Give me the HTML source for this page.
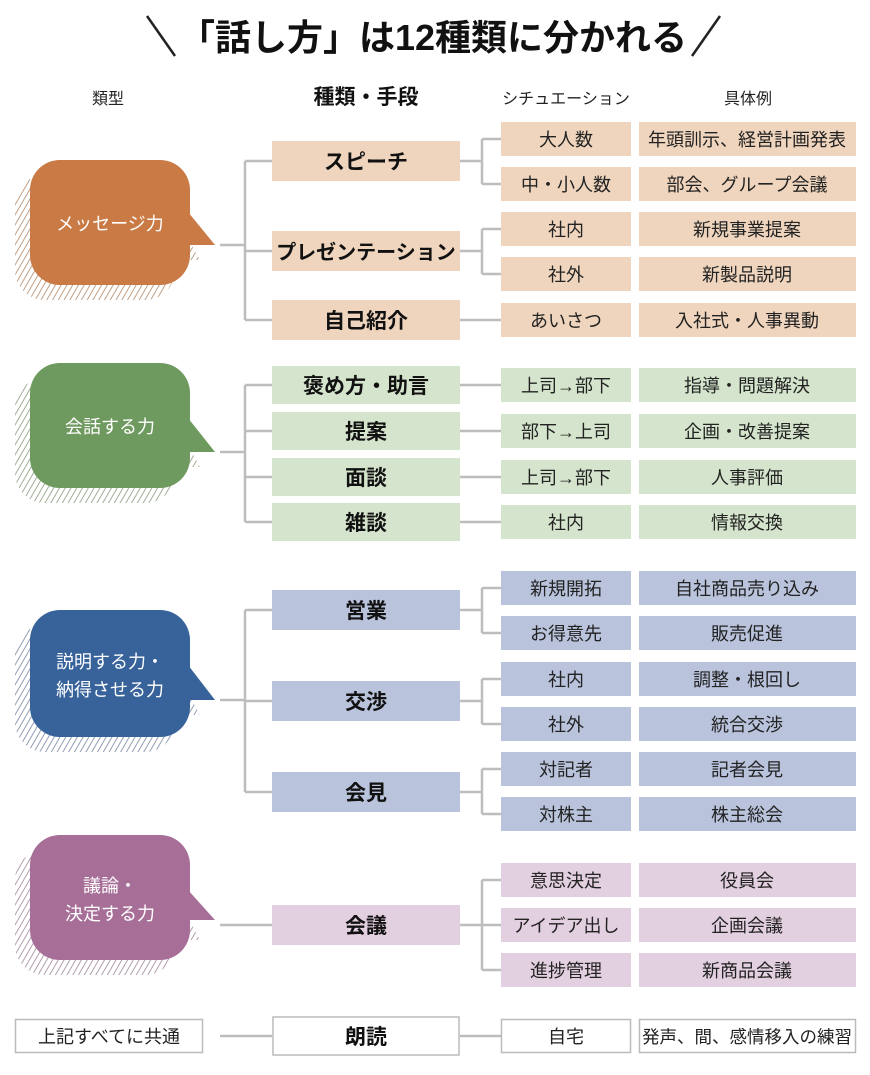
<!DOCTYPE html>
<html><head><meta charset="utf-8"><style>
html,body{margin:0;padding:0;background:#fff;}
svg{display:block;}
text{font-family:"Liberation Sans","Noto Sans CJK JP",sans-serif;}
</style></head><body>
<svg width="870" height="1075" viewBox="0 0 870 1075" xmlns="http://www.w3.org/2000/svg">
<defs>
<pattern id="ho" width="5" height="5" patternUnits="userSpaceOnUse" patternTransform="rotate(30)"><line x1="0" y1="0" x2="0" y2="5" stroke="#b8957a" stroke-width="1.8"/></pattern>
<pattern id="hg" width="5" height="5" patternUnits="userSpaceOnUse" patternTransform="rotate(30)"><line x1="0" y1="0" x2="0" y2="5" stroke="#94a58a" stroke-width="1.8"/></pattern>
<pattern id="hb" width="5" height="5" patternUnits="userSpaceOnUse" patternTransform="rotate(30)"><line x1="0" y1="0" x2="0" y2="5" stroke="#8592ad" stroke-width="1.8"/></pattern>
<pattern id="hp" width="5" height="5" patternUnits="userSpaceOnUse" patternTransform="rotate(30)"><line x1="0" y1="0" x2="0" y2="5" stroke="#aa92a3" stroke-width="1.8"/></pattern>
</defs>

<line x1="147" y1="16" x2="175" y2="56" stroke="#222" stroke-width="2.5"/>
<line x1="692" y1="56" x2="720" y2="16" stroke="#222" stroke-width="2.5"/>
<text x="433" y="50" font-size="36" font-weight="bold" text-anchor="middle" fill="#111">「話し方」は12種類に分かれる</text>

<text x="108" y="104" font-size="16" text-anchor="middle" fill="#222">類型</text>
<text x="366" y="104" font-size="21" font-weight="bold" text-anchor="middle" fill="#111">種類・手段</text>
<text x="566" y="104" font-size="16" text-anchor="middle" fill="#222">シチュエーション</text>
<text x="748" y="104" font-size="16" text-anchor="middle" fill="#222">具体例</text>

<g stroke="#bdbdbd" stroke-width="2.5" fill="none">
<path d="M220 245H245M245 161V320M245 161H272M245 251H272M245 320H272"/>
<path d="M460 161H482M482 139V184M482 139H501M482 184H501"/>
<path d="M460 251H482M482 229V274M482 229H501M482 274H501"/>
<path d="M460 320H501"/>
<path d="M220 452H245M245 385V522M245 385H272M245 431H272M245 477H272M245 522H272"/>
<path d="M460 385H501M460 431H501M460 477H501M460 522H501"/>
<path d="M220 700H245M245 610V792M245 610H272M245 701H272M245 792H272"/>
<path d="M460 610H482M482 588V633M482 588H501M482 633H501"/>
<path d="M460 701H482M482 679V724M482 679H501M482 724H501"/>
<path d="M460 792H482M482 769V814M482 769H501M482 814H501"/>
<path d="M220 925H272"/>
<path d="M460 925H482M482 880V970M482 880H501M482 925H501M482 970H501"/>
<path d="M220 1036H272M460 1036H501"/>
</g>

<g>
<rect x="15" y="175" width="160" height="125" rx="30" fill="url(#ho)"/><polygon points="173,212 200,260 173,260" fill="url(#ho)"/>
<rect x="30" y="160" width="160" height="125" rx="30" fill="#c97a45"/><polygon points="188,212 215,245 188,245" fill="#c97a45"/>
<text x="110" y="230" font-size="18" fill="#fff" text-anchor="middle">メッセージ力</text>

<rect x="15" y="378" width="160" height="125" rx="30" fill="url(#hg)"/><polygon points="173,418 200,467 173,467" fill="url(#hg)"/>
<rect x="30" y="363" width="160" height="125" rx="30" fill="#6f9a5f"/><polygon points="188,418 215,452 188,452" fill="#6f9a5f"/>
<text x="110" y="433" font-size="18" fill="#fff" text-anchor="middle">会話する力</text>

<rect x="15" y="625" width="160" height="127" rx="30" fill="url(#hb)"/><polygon points="173,665 200,715 173,715" fill="url(#hb)"/>
<rect x="30" y="610" width="160" height="127" rx="30" fill="#37629a"/><polygon points="188,665 215,700 188,700" fill="#37629a"/>
<text x="110" y="668" font-size="18" fill="#fff" text-anchor="middle">説明する力・</text>
<text x="110" y="696" font-size="18" fill="#fff" text-anchor="middle">納得させる力</text>

<rect x="15" y="850" width="160" height="125" rx="30" fill="url(#hp)"/><polygon points="173,890 200,940 173,940" fill="url(#hp)"/>
<rect x="30" y="835" width="160" height="125" rx="30" fill="#a76f98"/><polygon points="188,890 215,920 188,920" fill="#a76f98"/>
<text x="110" y="892" font-size="18" fill="#fff" text-anchor="middle">議論・</text>
<text x="110" y="920" font-size="18" fill="#fff" text-anchor="middle">決定する力</text>
</g>

<g font-size="21" font-weight="bold" text-anchor="middle" fill="#111">
<rect x="272" y="141" width="188" height="40" fill="#efd5bd"/><text x="366" y="169">スピーチ</text>
<rect x="272" y="231" width="188" height="40" fill="#efd5bd"/><text x="366" y="259" font-size="20">プレゼンテーション</text>
<rect x="272" y="300" width="188" height="40" fill="#efd5bd"/><text x="366" y="328">自己紹介</text>
<rect x="272" y="366" width="188" height="38" fill="#d5e4cc"/><text x="366" y="393">褒め方・助言</text>
<rect x="272" y="412" width="188" height="38" fill="#d5e4cc"/><text x="366" y="439">提案</text>
<rect x="272" y="458" width="188" height="38" fill="#d5e4cc"/><text x="366" y="485">面談</text>
<rect x="272" y="503" width="188" height="38" fill="#d5e4cc"/><text x="366" y="530">雑談</text>
<rect x="272" y="590" width="188" height="40" fill="#b9c3dc"/><text x="366" y="618">営業</text>
<rect x="272" y="681" width="188" height="40" fill="#b9c3dc"/><text x="366" y="709">交渉</text>
<rect x="272" y="772" width="188" height="40" fill="#b9c3dc"/><text x="366" y="800">会見</text>
<rect x="272" y="905" width="188" height="40" fill="#e2cfdf"/><text x="366" y="933">会議</text>
<rect x="273" y="1017" width="186" height="38" fill="#fff" stroke="#bbb" stroke-width="1.5"/><text x="366" y="1044">朗読</text>
</g>

<g font-size="18" text-anchor="middle" fill="#222">
<rect x="501" y="122" width="130" height="34" fill="#efd5bd"/><rect x="639" y="122" width="217" height="34" fill="#efd5bd"/>
<text x="566" y="146">大人数</text><text x="747" y="146">年頭訓示、経営計画発表</text>
<rect x="501" y="167" width="130" height="34" fill="#efd5bd"/><rect x="639" y="167" width="217" height="34" fill="#efd5bd"/>
<text x="566" y="191">中・小人数</text><text x="747" y="191">部会、グループ会議</text>
<rect x="501" y="212" width="130" height="34" fill="#efd5bd"/><rect x="639" y="212" width="217" height="34" fill="#efd5bd"/>
<text x="566" y="236">社内</text><text x="747" y="236">新規事業提案</text>
<rect x="501" y="257" width="130" height="34" fill="#efd5bd"/><rect x="639" y="257" width="217" height="34" fill="#efd5bd"/>
<text x="566" y="281">社外</text><text x="747" y="281">新製品説明</text>
<rect x="501" y="303" width="130" height="34" fill="#efd5bd"/><rect x="639" y="303" width="217" height="34" fill="#efd5bd"/>
<text x="566" y="327">あいさつ</text><text x="747" y="327">入社式・人事異動</text>

<rect x="501" y="368" width="130" height="34" fill="#d5e4cc"/><rect x="639" y="368" width="217" height="34" fill="#d5e4cc"/>
<text x="566" y="392">上司→部下</text><text x="747" y="392">指導・問題解決</text>
<rect x="501" y="414" width="130" height="34" fill="#d5e4cc"/><rect x="639" y="414" width="217" height="34" fill="#d5e4cc"/>
<text x="566" y="438">部下→上司</text><text x="747" y="438">企画・改善提案</text>
<rect x="501" y="460" width="130" height="34" fill="#d5e4cc"/><rect x="639" y="460" width="217" height="34" fill="#d5e4cc"/>
<text x="566" y="484">上司→部下</text><text x="747" y="484">人事評価</text>
<rect x="501" y="505" width="130" height="34" fill="#d5e4cc"/><rect x="639" y="505" width="217" height="34" fill="#d5e4cc"/>
<text x="566" y="529">社内</text><text x="747" y="529">情報交換</text>

<rect x="501" y="571" width="130" height="34" fill="#b9c3dc"/><rect x="639" y="571" width="217" height="34" fill="#b9c3dc"/>
<text x="566" y="595">新規開拓</text><text x="747" y="595">自社商品売り込み</text>
<rect x="501" y="616" width="130" height="34" fill="#b9c3dc"/><rect x="639" y="616" width="217" height="34" fill="#b9c3dc"/>
<text x="566" y="640">お得意先</text><text x="747" y="640">販売促進</text>
<rect x="501" y="662" width="130" height="34" fill="#b9c3dc"/><rect x="639" y="662" width="217" height="34" fill="#b9c3dc"/>
<text x="566" y="686">社内</text><text x="747" y="686">調整・根回し</text>
<rect x="501" y="707" width="130" height="34" fill="#b9c3dc"/><rect x="639" y="707" width="217" height="34" fill="#b9c3dc"/>
<text x="566" y="731">社外</text><text x="747" y="731">統合交渉</text>
<rect x="501" y="752" width="130" height="34" fill="#b9c3dc"/><rect x="639" y="752" width="217" height="34" fill="#b9c3dc"/>
<text x="566" y="776">対記者</text><text x="747" y="776">記者会見</text>
<rect x="501" y="797" width="130" height="34" fill="#b9c3dc"/><rect x="639" y="797" width="217" height="34" fill="#b9c3dc"/>
<text x="566" y="821">対株主</text><text x="747" y="821">株主総会</text>

<rect x="501" y="863" width="130" height="34" fill="#e2cfdf"/><rect x="639" y="863" width="217" height="34" fill="#e2cfdf"/>
<text x="566" y="887">意思決定</text><text x="747" y="887">役員会</text>
<rect x="501" y="908" width="130" height="34" fill="#e2cfdf"/><rect x="639" y="908" width="217" height="34" fill="#e2cfdf"/>
<text x="566" y="932">アイデア出し</text><text x="747" y="932">企画会議</text>
<rect x="501" y="953" width="130" height="34" fill="#e2cfdf"/><rect x="639" y="953" width="217" height="34" fill="#e2cfdf"/>
<text x="566" y="977">進捗管理</text><text x="747" y="977">新商品会議</text>

<rect x="501.5" y="1019.5" width="129" height="33" fill="#fff" stroke="#bbb" stroke-width="1.5"/><rect x="639.5" y="1019.5" width="216" height="33" fill="#fff" stroke="#bbb" stroke-width="1.5"/>
<text x="566" y="1043">自宅</text><text x="747" y="1043" font-size="17.5">発声、間、感情移入の練習</text>
<rect x="15.5" y="1019.5" width="187" height="33" fill="#fff" stroke="#bbb" stroke-width="1.5"/>
<text x="109" y="1043">上記すべてに共通</text>
</g>
</svg>
</body></html>
